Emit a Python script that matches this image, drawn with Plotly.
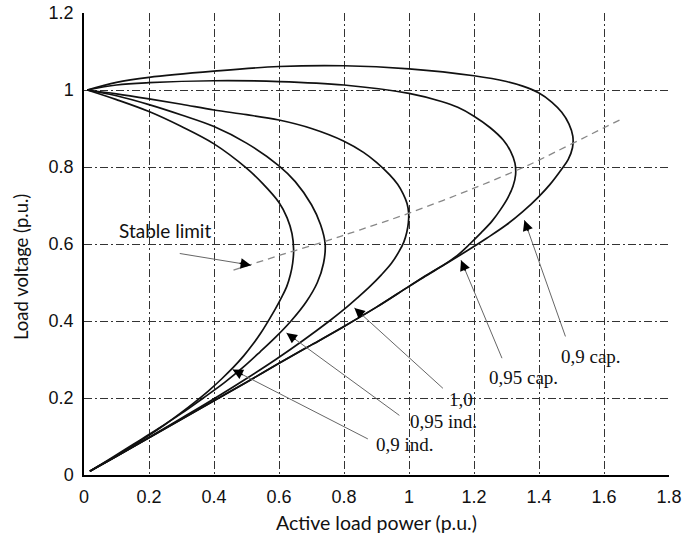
import numpy as np
import plotly.graph_objects as go

# ---- data (P in p.u., V in p.u.) ----
p_09ind = [0.01, 0.1, 0.2, 0.3, 0.4, 0.5, 0.55, 0.6, 0.625, 0.64, 0.645,
           0.642, 0.635, 0.624, 0.607, 0.588, 0.567, 0.545, 0.52, 0.492, 0.46, 0.424,
           0.385, 0.342, 0.296, 0.247, 0.194, 0.138, 0.08, 0.018]
v_09ind = [1.0, 0.975, 0.944, 0.905, 0.86, 0.797, 0.757, 0.708, 0.668, 0.627, 0.585,
           0.55, 0.52, 0.49, 0.46, 0.43, 0.40, 0.37, 0.34, 0.31, 0.28, 0.25,
           0.22, 0.19, 0.16, 0.13, 0.10, 0.07, 0.04, 0.01]

p_095ind = [0.01, 0.1, 0.2, 0.3, 0.4, 0.5, 0.6, 0.65, 0.7, 0.728, 0.742,
            0.737, 0.718, 0.684, 0.637, 0.592, 0.542, 0.49, 0.432, 0.367, 0.30, 0.228, 0.152, 0.076, 0.018]
v_095ind = [1.0, 0.985, 0.962, 0.935, 0.905, 0.862, 0.803, 0.762, 0.702, 0.65, 0.60,
            0.55, 0.50, 0.45, 0.40, 0.36, 0.32, 0.28, 0.24, 0.20, 0.16, 0.12, 0.08, 0.04, 0.01]

p_10 = [0.01, 0.1, 0.2, 0.3, 0.4, 0.5, 0.6, 0.7, 0.8, 0.86, 0.9, 0.94, 0.965, 0.982, 0.994,
        0.999, 0.998, 0.993, 0.984, 0.969, 0.946, 0.915, 0.88, 0.841, 0.80, 0.755, 0.675, 0.59,
        0.499, 0.404, 0.305, 0.205, 0.103, 0.018]
v_10 = [1.0, 0.99, 0.977, 0.963, 0.948, 0.936, 0.922, 0.90, 0.867, 0.838, 0.812, 0.78, 0.755, 0.73, 0.705,
        0.68, 0.655, 0.63, 0.605, 0.58, 0.55, 0.52, 0.49, 0.46, 0.43, 0.40, 0.35, 0.30,
        0.25, 0.20, 0.15, 0.10, 0.05, 0.01]

p_095cap = [0.01, 0.1, 0.2, 0.4, 0.6, 0.8, 1.0, 1.1, 1.15, 1.2, 1.25, 1.29, 1.313, 1.326,
            1.328, 1.32, 1.304, 1.282, 1.256, 1.223, 1.187, 1.148, 1.10, 1.05, 1.0,
            0.9, 0.8, 0.7, 0.6, 0.5, 0.4, 0.3, 0.2, 0.1, 0.018]
v_095cap = [1.0, 1.013, 1.019, 1.024, 1.022, 1.013, 0.991, 0.97, 0.955, 0.932, 0.902, 0.87, 0.84, 0.81,
            0.78, 0.75, 0.72, 0.69, 0.66, 0.63, 0.60, 0.57, 0.542, 0.516, 0.49,
            0.436, 0.386, 0.338, 0.29, 0.241, 0.193, 0.145, 0.097, 0.049, 0.01]

p_09cap = [0.01, 0.1, 0.2, 0.4, 0.6, 0.8, 1.0, 1.2, 1.3, 1.35, 1.40, 1.44, 1.47, 1.492, 1.504,
           1.503, 1.49, 1.47, 1.434, 1.398, 1.35, 1.3, 1.239, 1.18, 1.12, 1.06, 1.0,
           0.9, 0.8, 0.7, 0.6, 0.5, 0.4, 0.3, 0.2, 0.1, 0.018]
v_09cap = [1.0, 1.02, 1.033, 1.049, 1.061, 1.063, 1.055, 1.037, 1.022, 1.01, 0.992, 0.968, 0.942, 0.912, 0.88,
           0.85, 0.82, 0.795, 0.755, 0.722, 0.684, 0.65, 0.615, 0.583, 0.552, 0.522, 0.49,
           0.436, 0.386, 0.338, 0.29, 0.241, 0.193, 0.145, 0.097, 0.049, 0.01]

p_stable = [0.46, 0.6, 0.742, 0.85, 1.0, 1.2, 1.355, 1.4, 1.6, 1.655]
v_stable = [0.532, 0.57, 0.607, 0.637, 0.68, 0.745, 0.80, 0.818, 0.902, 0.925]

x_ticks = [0, 0.2, 0.4, 0.6, 0.8, 1.0, 1.2, 1.4, 1.6, 1.8]
x_ticklabels = ["0", "0.2", "0.4", "0.6", "0.8", "1", "1.2", "1.4", "1.6", "1.8"]
y_ticks = [0, 0.2, 0.4, 0.6, 0.8, 1.0, 1.2]
y_ticklabels = ["0", "0.2", "0.4", "0.6", "0.8", "1", "1.2"]

# labels: text, text position, arrow tip, arrow tail
label_text = ["0,9 cap.", "0,95 cap.", "1,0", "0,95 ind.", "0,9 ind.", "Stable limit"]
label_pos = [(1.56, 0.309), (1.351, 0.252), (1.16, 0.195), (1.105, 0.138), (0.988, 0.08), (0.249, 0.634)]
arrow_tip = [(1.355, 0.662), (1.16, 0.558), (0.832, 0.434), (0.623, 0.369), (0.457, 0.274), (0.514, 0.545)]
arrow_tail = [(1.483, 0.356), (1.288, 0.2995), (1.109, 0.2216), (0.975, 0.152), (0.878, 0.0917), (0.29, 0.576)]

x_title = "Active load power (p.u.)"
y_title = "Load voltage (p.u.)"

# ---- figure ----
W, H = 686, 538
ML, MR, MT, MB = 84, 17, 13, 63
XR, YR = 1.8, 1.2
sx = (W - ML - MR) / XR
sy = (H - MT - MB) / YR

fig = go.Figure()
curve_style = dict(color="#111111", width=1.7, shape="spline", smoothing=1.0)
for px_, vy_ in [(p_09ind, v_09ind), (p_095ind, v_095ind), (p_10, v_10),
                 (p_095cap, v_095cap), (p_09cap, v_09cap)]:
    fig.add_trace(go.Scatter(x=px_, y=vy_, mode="lines", line=curve_style,
                             showlegend=False, hoverinfo="skip"))

fig.add_trace(go.Scatter(x=p_stable, y=v_stable, mode="lines",
                         line=dict(color="#888888", width=1.3, dash="7px,5px", shape="spline"),
                         showlegend=False, hoverinfo="skip"))

annotations = []
for i, txt in enumerate(label_text):
    tx, ty = arrow_tip[i]
    lx, ly = arrow_tail[i]
    annotations.append(dict(x=tx, y=ty, ax=lx, ay=ly, xref="x", yref="y",
                            axref="x", ayref="y", text="", showarrow=True,
                            arrowhead=0, arrowwidth=1, arrowcolor="#666666", standoff=0))
    dx = (lx - tx) * sx
    dy = -(ly - ty) * sy
    n = np.hypot(dx, dy)
    annotations.append(dict(x=tx, y=ty, ax=dx / n * 13, ay=dy / n * 13, xref="x", yref="y",
                            text="", showarrow=True, arrowhead=2, arrowsize=1.3,
                            arrowwidth=1.6, arrowcolor="#000000", standoff=0))
    cx, cy = label_pos[i]
    font = dict(family="Liberation Serif, Times New Roman, serif", size=19, color="#111111")
    if txt == "Stable limit":
        font = dict(family="Lato, Open Sans, sans-serif", size=19, color="#111111")
    annotations.append(dict(x=cx, y=cy, xref="x", yref="y", text=txt, showarrow=False,
                            font=font, xanchor="center", yanchor="middle"))

annotations.append(dict(x=0.5, y=0, xref="paper", yref="paper", text=x_title, showarrow=False,
                        font=dict(family="Lato, Open Sans, sans-serif", size=19.5, color="#111111"),
                        xanchor="center", yanchor="middle", yshift=-47))
annotations.append(dict(x=0, y=(475 - 267) / 462, xref="paper", yref="paper", text=y_title,
                        showarrow=False, textangle=-90,
                        font=dict(family="Lato, Open Sans, sans-serif", size=18.5, color="#111111"),
                        xanchor="center", yanchor="middle", xshift=-63))

axis_common = dict(showgrid=True, gridcolor="#333333", gridwidth=1, griddash="8px,3px,2px,3px",
                   zeroline=False, showline=True, linecolor="#000000", linewidth=1.5,
                   ticks="", automargin=False, ticklabelstandoff=5,
                   tickfont=dict(family="Liberation Sans, Arial, sans-serif", size=18, color="#111111"))

fig.update_layout(
    width=W, height=H,
    margin=dict(l=ML, r=MR, t=MT, b=MB, autoexpand=False),
    paper_bgcolor="white", plot_bgcolor="white",
    xaxis=dict(range=[0, XR], tickvals=x_ticks, ticktext=x_ticklabels, **axis_common),
    yaxis=dict(range=[0, YR], tickvals=y_ticks, ticktext=y_ticklabels, **axis_common),
    annotations=annotations,
)

fig.write_html("out.html", config={"displayModeBar": False},
               post_script="document.body.style.margin='0';document.body.style.padding='0';")
